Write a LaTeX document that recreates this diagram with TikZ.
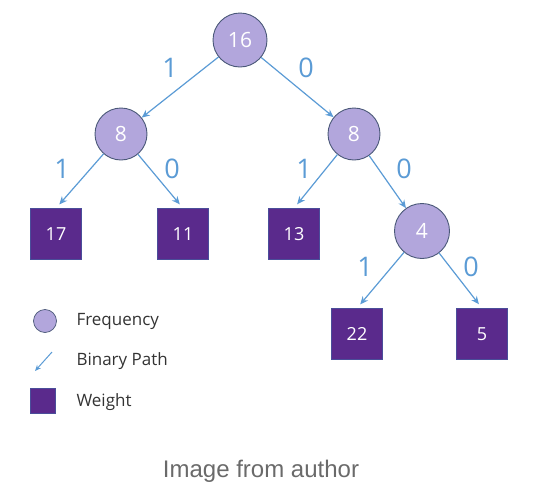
\documentclass[tikz,border=0pt]{standalone}
\usepackage{fontspec}
\setmainfont{Open Sans}
\newfontfamily\captionfont{Liberation Sans}
\usetikzlibrary{arrows.meta}
\definecolor{freqfill}{HTML}{B2A6DC}
\definecolor{freqline}{HTML}{4A5878}
\definecolor{weightfill}{HTML}{5A2A8C}
\definecolor{weightline}{HTML}{4A4E9A}
\definecolor{bitblue}{HTML}{5B9BD5}
\definecolor{captiongray}{HTML}{6A6A6A}

\begin{document}
\begin{tikzpicture}[x=1pt,y=-1pt,
  freq/.style={circle,draw=freqline,fill=freqfill,line width=0.9pt,
    minimum size=54pt,inner sep=0pt,text=white,font=\fontsize{21}{21}\selectfont},
  weight/.style={rectangle,draw=weightline,fill=weightfill,line width=0.6pt,
    minimum size=51pt,inner sep=0pt,text=white,font=\fontsize{18}{18}\selectfont},
  bitarrow/.style={draw=bitblue,line width=1.2pt,-{Stealth[length=8pt,width=7pt]}},
  bit/.style={text=bitblue,font=\fontsize{27}{27}\selectfont},
  legendtext/.style={anchor=west,text=black!80,font=\fontsize{17}{17}\selectfont}]
  \useasboundingbox (0,0) rectangle (558,496);

  % frequencies
  \node[freq] (n16) at (240,40) {16};
  \node[freq,minimum size=52pt] (n8a) at (121,134) {8};
  \node[freq,minimum size=52pt] (n8b) at (354,134) {8};
  \node[freq,minimum size=55pt] (n4) at (422,231) {4};

  % weights
  \node[weight] (w17) at (56,234) {17};
  \node[weight] (w11) at (183,234) {11};
  \node[weight] (w13) at (294,234) {13};
  \node[weight] (w22) at (357,334) {22};
  \node[weight] (w5) at (482,334) {5};

  % binary paths
  \draw[bitarrow] (n16) -- (n8a);
  \draw[bitarrow] (n16) -- (n8b);
  \draw[bitarrow] (n8b) -- (n4);
  \foreach \from/\to in {n8a/w17, n8a/w11, n8b/w13, n4/w22, n4/w5}{
    \draw[bitarrow,shorten >=5pt] (\from) -- (\to.north);
  }
  \foreach \Bit/\X/\Y in {1/170/68, 0/306/68, 1/62/169, 0/172/169,
    1/304/169, 0/404/169, 1/365/267, 0/471/267}{
    \node[bit] at (\X,\Y) {\Bit};
  }

  % legend
  \node[freq,minimum size=23pt,line width=0.7pt] (legfreq) at (45,321) {};
  \coordinate (legfrom) at (52,352);
  \coordinate (legto) at (35,371);
  \draw[bitarrow,line width=1pt,-{Stealth[length=6pt,width=5pt]}] (legfrom) -- (legto);
  \node[weight,minimum size=25pt] (legweight) at (43,401) {};
  \node[legendtext] (legfreqtext) at (73,321) {Frequency};
  \node[legendtext] (legpathtext) at (73,361) {Binary Path};
  \node[legendtext] (legweighttext) at (73,402) {Weight};

  \node[text=captiongray,font=\captionfont\fontsize{24}{24}\selectfont] (caption)
    at (261,471) {Image from author};
\end{tikzpicture}
\end{document}
